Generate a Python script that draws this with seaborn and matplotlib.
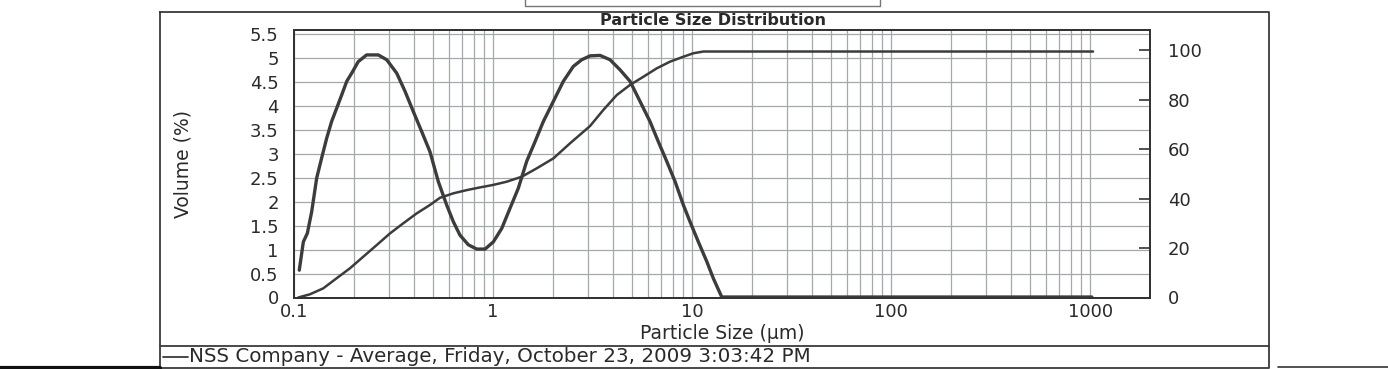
import numpy as np
import pandas as pd
import matplotlib
matplotlib.use("Agg")
import matplotlib.pyplot as plt
from matplotlib.lines import Line2D
from matplotlib.ticker import FixedLocator, LogLocator, NullFormatter
import seaborn as sns

# === Data ===
# volume frequency curve (left axis)
size_freq = [0.1063, 0.1114, 0.1167, 0.1227, 0.1300, 0.1377, 0.1459, 0.1545, 0.1639, 0.1738,
             0.1841, 0.1950, 0.2103, 0.2316, 0.2652, 0.2922, 0.3281, 0.3614, 0.3975, 0.4383,
             0.4822, 0.5309, 0.5848, 0.6321, 0.6823, 0.7515, 0.8279, 0.9120, 1.0035, 1.106,
             1.217, 1.340, 1.476, 1.626, 1.789, 2.009, 2.256, 2.532, 2.791, 3.073,
             3.450, 3.871, 4.347, 4.880, 5.480, 6.150, 6.771, 7.463, 8.214, 9.045,
             9.770, 10.76, 11.86, 12.79, 14.10, 1020.0]
volume = [0.57, 1.16, 1.34, 1.79, 2.49, 2.91, 3.32, 3.67, 3.95, 4.23,
          4.51, 4.68, 4.92, 5.06, 5.06, 4.96, 4.68, 4.30, 3.88, 3.46,
          3.04, 2.42, 1.93, 1.58, 1.30, 1.10, 1.01, 1.01, 1.16, 1.44,
          1.86, 2.28, 2.84, 3.25, 3.67, 4.09, 4.51, 4.82, 4.96, 5.04,
          5.05, 4.96, 4.75, 4.51, 4.09, 3.67, 3.25, 2.84, 2.42, 1.93,
          1.58, 1.16, 0.75, 0.40, 0.01, 0.01]

# cumulative curve (right axis)
size_cum = [0.1051, 0.1203, 0.1403, 0.1639, 0.1910, 0.2230, 0.2604, 0.3036, 0.3542, 0.4137,
            0.4822, 0.5414, 0.6321, 0.7379, 0.8610, 1.0035, 1.172, 1.394, 1.658, 2.009,
            2.437, 3.073, 3.584, 4.184, 4.880, 5.692, 6.645, 7.751, 9.045, 10.15,
            11.40, 1035.0]
cumulative = [0.0, 1.3, 3.7, 7.8, 11.8, 16.5, 21.2, 25.9, 30.0, 34.0,
              37.4, 40.3, 42.1, 43.4, 44.5, 45.5, 46.8, 48.8, 52.2, 56.2,
              62.3, 69.3, 75.8, 81.8, 85.9, 89.2, 92.6, 95.3, 97.3, 98.7,
              99.4, 99.4]

x_ticks = [0.1, 1, 10, 100, 1000]
x_ticklabels = ["0.1", "1", "10", "100", "1000"]
left_ticks = [0, 0.5, 1, 1.5, 2, 2.5, 3, 3.5, 4, 4.5, 5, 5.5]
right_ticks = [0, 20, 40, 60, 80, 100]

df_freq = pd.DataFrame({"size": size_freq, "volume": volume})
df_cum = pd.DataFrame({"size": size_cum, "cumulative": cumulative})

# === Style ===
sns.set_style("white")
plt.rcParams["font.family"] = ["DejaVu Sans"]
line_col = "#3c3c3c"
grid_col = "#a4a8ac"
text_col = "#2a2a2a"

W, H = 1388, 369
fig = plt.figure(figsize=(W / 100, H / 100), dpi=100)
fig.patch.set_facecolor("white")

ax = fig.add_axes([294 / W, 1 - 297.5 / H, (1150 - 294) / W, (297.5 - 30) / H])
ax2 = ax.twinx()

sns.lineplot(data=df_freq, x="size", y="volume", ax=ax, color=line_col,
             linewidth=2.4, estimator=None, sort=False)
sns.lineplot(data=df_cum, x="size", y="cumulative", ax=ax2, color=line_col,
             linewidth=1.8, estimator=None, sort=False)

ax.set_xscale("log")
ax.set_xlim(0.1, 2000)
ax.set_ylim(0, 5.58)
ax2.set_ylim(0, 108.1)

ax.xaxis.set_major_locator(FixedLocator(x_ticks))
ax.set_xticklabels(x_ticklabels)
ax.xaxis.set_minor_locator(LogLocator(base=10, subs=np.arange(2, 10)))
ax.xaxis.set_minor_formatter(NullFormatter())
ax.set_yticks(left_ticks)
ax.set_yticklabels(["%g" % t for t in left_ticks])
ax2.set_yticks(right_ticks)

ax.grid(True, which="both", axis="x", color=grid_col, linewidth=0.9)
ax.grid(True, which="major", axis="y", color=grid_col, linewidth=0.9)
ax.set_axisbelow(True)
ax2.grid(False)

ax.tick_params(axis="both", which="both", length=0, labelsize=13, colors=text_col)
ax.tick_params(axis="y", pad=11)
ax.tick_params(axis="x", pad=4)
ax2.tick_params(axis="y", direction="in", length=8, width=1.2, color="#333333",
                labelsize=13, pad=13, labelcolor=text_col)

for a in (ax, ax2):
    for s in a.spines.values():
        s.set_color("#333333")
        s.set_linewidth(1.4)

ax.set_xlabel("Particle Size (\u00b5m)", fontsize=13.5, color=text_col, labelpad=2)
ax.set_ylabel("Volume (%)", fontsize=13.5, color=text_col)
ax.yaxis.set_label_coords(-0.119, 0.5)
ax2.set_ylabel("")

fig.text(713 / W, 1 - 20.5 / H, "Particle Size Distribution", ha="center", va="center",
         fontsize=11.5, fontweight="bold", color=text_col)

# outer frame, footer separator and footer
def fx(px):
    return px / W

def fy(py):
    return 1 - py / H

frame_kw = dict(color="#3a3a3a", linewidth=1.3, transform=fig.transFigure)
fig.add_artist(Line2D([fx(160), fx(1269), fx(1269), fx(160), fx(160)],
                      [fy(12), fy(12), fy(368), fy(368), fy(12)], **frame_kw))
fig.add_artist(Line2D([fx(160), fx(1269)], [fy(346), fy(346)], **frame_kw))
fig.add_artist(Line2D([fx(525), fx(525), fx(880), fx(880)],
                      [fy(-2), fy(6), fy(6), fy(-2)], color="#777777",
                      linewidth=1.0, transform=fig.transFigure))
fig.add_artist(Line2D([fx(163), fx(188)], [fy(357), fy(357)], **frame_kw))
fig.add_artist(Line2D([fx(0), fx(160)], [fy(367.5), fy(367.5)], color="#111111",
                      linewidth=3, transform=fig.transFigure))
fig.add_artist(Line2D([fx(1278), fx(1388)], [fy(366.5), fy(366.5)], color="#333333",
                      linewidth=1.2, transform=fig.transFigure))
fig.text(fx(189), fy(356), "NSS Company - Average, Friday, October 23, 2009 3:03:42 PM",
         ha="left", va="center", fontsize=14.3, color=text_col)

fig.savefig("out.png", dpi=100, facecolor="white")
